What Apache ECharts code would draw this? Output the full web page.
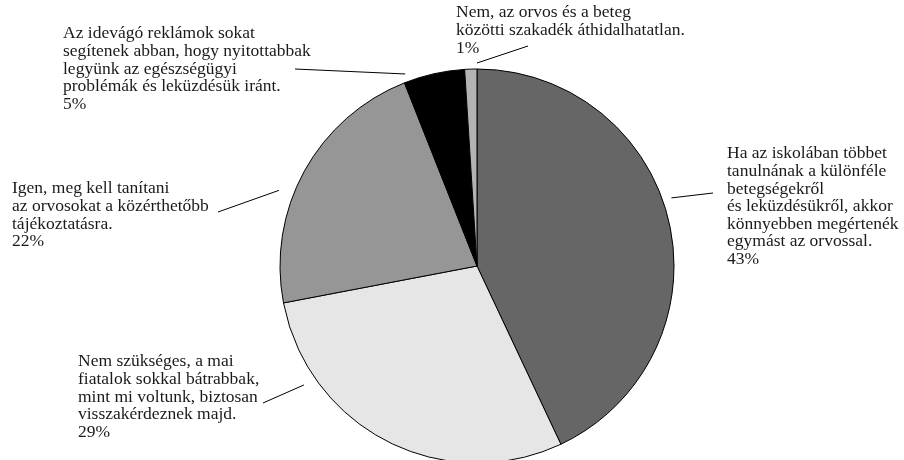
<!DOCTYPE html>
<html>
<head>
<meta charset="utf-8">
<script src="https://cdn.jsdelivr.net/npm/echarts@6/dist/echarts.min.js"></script>
<style>
  html, body { margin: 0; padding: 0; background: #fff; }
  #chart { width: 904px; height: 460px; }
</style>
</head>
<body>
<div id="chart"></div>
<script>
// Answers, clockwise from 12 o'clock
const answers = [
  'Ha az iskolában többet\ntanulnának a különféle\nbetegségekről\nés leküzdésükről, akkor\nkönnyebben megértenék\negymást az orvossal.',
  'Nem szükséges, a mai\nfiatalok sokkal bátrabbak,\nmint mi voltunk, biztosan\nvisszakérdeznek majd.',
  'Igen, meg kell tanítani\naz orvosokat a közérthetőbb\ntájékoztatásra.',
  'Az idevágó reklámok sokat\nsegítenek abban, hogy nyitottabbak\nlegyünk az egészségügyi\nproblémák és leküzdésük iránt.',
  'Nem, az orvos és a beteg\nközötti szakadék áthidalhatatlan.'
];
// Share of respondents, percent
const shares = [43, 29, 22, 5, 1];

const sliceColors = ['#666666', '#e6e6e6', '#969696', '#000000', '#b3b3b3'];

// Pie geometry (px)
const CX = 477, CY = 266, R = 197;

// Label boxes: top-left corner of the text, and the leader line
// (start given as angle clockwise from 12 o'clock + distance from centre, end point beside the text)
const labelPlacement = [
  { x: 727, y: 145, lineAngle: 70.7,  lineR: 206, lineEnd: [713, 193] },
  { x: 78,  y: 353, lineAngle: 235.5, lineR: 210, lineEnd: [263, 403] },
  { x: 12,  y: 180, lineAngle: 290.9, lineR: 212, lineEnd: [218, 212] },
  { x: 63,  y: 25,  lineAngle: 339.5, lineR: 205, lineEnd: [295, 69] },
  { x: 456, y: 4,   lineAngle: 0,     lineR: 203, lineEnd: [528, 46] }
];

const chart = echarts.init(document.getElementById('chart'), null, { renderer: 'canvas' });

chart.setOption({
  backgroundColor: '#ffffff',
  animation: false,
  series: [{
    type: 'pie',
    center: [CX, CY],
    radius: R,
    startAngle: 90,
    clockwise: true,
    avoidLabelOverlap: false,
    data: answers.map((name, i) => ({
      name: name,
      value: shares[i],
      itemStyle: { color: sliceColors[i] }
    })),
    itemStyle: { borderColor: '#000', borderWidth: 1 },
    emphasis: { disabled: true },
    label: {
      show: true,
      position: 'outside',
      formatter: '{b}\n{c}%',
      fontFamily: '"Liberation Serif", "Times New Roman", serif',
      fontSize: 17.5,
      lineHeight: 17.6,
      color: '#1a1a1a',
      align: 'left'
    },
    labelLine: {
      show: true,
      length: 10,
      length2: 0,
      smooth: false,
      lineStyle: { color: '#000', width: 1 }
    },
    labelLayout: function (params) {
      const p = labelPlacement[params.dataIndex];
      const a = p.lineAngle * Math.PI / 180;
      const start = [CX + p.lineR * Math.sin(a), CY - p.lineR * Math.cos(a)];
      return {
        x: p.x,
        y: p.y,
        align: 'left',
        verticalAlign: 'top',
        labelLinePoints: [start, p.lineEnd.slice()]
      };
    }
  }]
});
</script>
</body>
</html>
